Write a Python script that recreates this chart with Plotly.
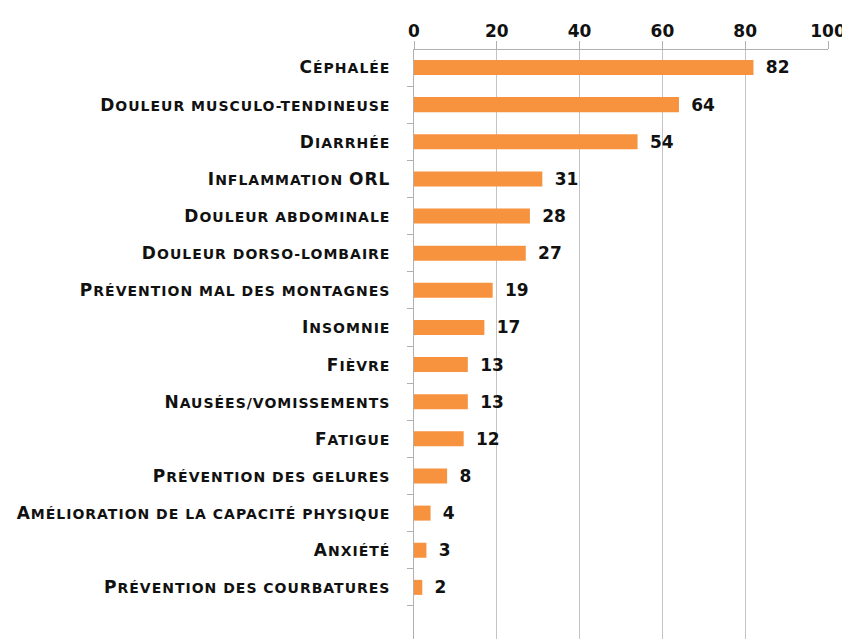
import plotly.graph_objects as go

categories = [
    "Céphalée",
    "Douleur musculo-tendineuse",
    "Diarrhée",
    "Inflammation ORL",
    "Douleur abdominale",
    "Douleur dorso-lombaire",
    "Prévention mal des montagnes",
    "Insomnie",
    "Fièvre",
    "Nausées/vomissements",
    "Fatigue",
    "Prévention des gelures",
    "Amélioration de la capacité physique",
    "Anxiété",
    "Prévention des courbatures",
]
values = [82, 64, 54, 31, 28, 27, 19, 17, 13, 13, 12, 8, 4, 3, 2]
x_ticks = [0, 20, 40, 60, 80, 100]

SMALL = 14


def small_caps(label):
    """Render a label in small capitals: capitals stay full size, the rest
    is upper-cased in a smaller size."""
    out = []
    run = ""
    for ch in label:
        if ch.isupper():
            if run:
                out.append('<span style="font-size:%dpx">%s</span>' % (SMALL, run.upper()))
                run = ""
            out.append(ch)
        else:
            run += ch
    if run:
        out.append('<span style="font-size:%dpx">%s</span>' % (SMALL, run.upper()))
    return '<span style="letter-spacing:1px">' + "".join(out) + "</span>"


tick_text = [small_caps(c) for c in categories]

fig = go.Figure(
    go.Bar(
        y=categories,
        x=values,
        orientation="h",
        width=0.404,
        marker=dict(color="#F7923F", line=dict(width=0)),
        text=values,
        texttemplate=" \u2009%{x}",
        textposition="outside",
        constraintext="none",
        cliponaxis=False,
        textfont=dict(family="DejaVu Sans", size=17, color="#111111", weight="bold"),
    )
)

# the page body adds an 8 px offset; sizes/margins compensate for it
fig.update_layout(
    width=842,
    height=631,
    margin=dict(l=406, r=22, t=42, b=0),
    paper_bgcolor="white",
    plot_bgcolor="white",
    showlegend=False,
    xaxis=dict(
        side="top",
        range=[0, 100],
        tickvals=x_ticks,
        automargin=False,
        showgrid=True,
        gridcolor="#c4c4c4",
        gridwidth=1.3,
        showline=True,
        linecolor="#b0b0b0",
        linewidth=1.3,
        ticks="outside",
        ticklen=8,
        tickcolor="#b0b0b0",
        zeroline=False,
        ticklabelstandoff=-3,
        tickfont=dict(family="DejaVu Sans", size=17, color="#111111", weight="bold"),
    ),
    yaxis=dict(
        type="category",
        categoryorder="array",
        categoryarray=categories,
        tickvals=categories,
        ticktext=tick_text,
        range=[15.39, -0.471],
        automargin=False,
        showgrid=False,
        showline=True,
        linecolor="#b0b0b0",
        linewidth=1.3,
        ticks="outside",
        tickson="boundaries",
        ticklen=6,
        tickcolor="#b0b0b0",
        ticklabelstandoff=19,
        tickfont=dict(family="DejaVu Sans", size=17, color="#111111", weight="bold"),
    ),
)

fig.write_html("out.html")
